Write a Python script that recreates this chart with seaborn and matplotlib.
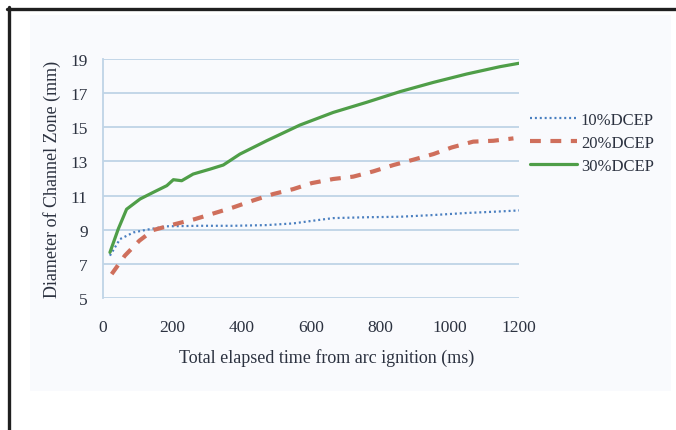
import matplotlib
matplotlib.use("Agg")
import matplotlib.pyplot as plt
from matplotlib.lines import Line2D
from matplotlib.patches import Rectangle
import seaborn as sns

# Channel zone diameter (mm) versus elapsed time (ms) for three DCEP ratios
t_10 = [20, 49, 88, 126, 184, 280, 376, 472, 549, 607, 664, 760, 857, 953, 1049, 1145, 1200]
d_10 = [7.48, 8.45, 8.84, 9.00, 9.20, 9.23, 9.23, 9.27, 9.37, 9.53, 9.68, 9.73, 9.76, 9.86, 9.98, 10.07, 10.13]

t_20 = [25, 63, 105, 145, 208, 265, 323, 376, 434, 491, 549, 602, 664, 722, 780, 838, 895, 953, 1006, 1068, 1126, 1184]
d_20 = [6.40, 7.48, 8.36, 8.98, 9.33, 9.62, 9.98, 10.31, 10.72, 11.09, 11.38, 11.73, 11.97, 12.11, 12.42, 12.79, 13.10, 13.43, 13.82, 14.16, 14.21, 14.35]

t_30 = [20, 44, 68, 107, 145, 184, 203, 227, 260, 309, 347, 395, 472, 568, 664, 760, 857, 953, 1049, 1145, 1200]
d_30 = [7.67, 9.04, 10.20, 10.80, 11.19, 11.58, 11.93, 11.87, 12.26, 12.55, 12.79, 13.43, 14.21, 15.13, 15.87, 16.46, 17.09, 17.63, 18.12, 18.55, 18.75]

series_labels = ["10%DCEP", "20%DCEP", "30%DCEP"]
x_ticks = [0, 200, 400, 600, 800, 1000, 1200]
y_ticks = [5, 7, 9, 11, 13, 15, 17, 19]

sns.set_theme(style="white")
plt.rcParams["font.family"] = ["Liberation Serif", "DejaVu Serif"]

W, H = 676, 431
fig = plt.figure(figsize=(W / 100, H / 100), dpi=100)
fig.patch.set_facecolor("white")

# light panel behind the chart and the dark frame edges
fig.patches.append(Rectangle((30 / W, 1 - 392 / H), (671 - 30) / W, (392 - 16) / H,
                             transform=fig.transFigure, facecolor="#f9fafd",
                             edgecolor="none", zorder=-5))
fig.lines.append(Line2D([8.5 / W, 8.5 / W], [0, 1 - 8 / H], transform=fig.transFigure,
                        color="#1f1f1f", linewidth=2.4, zorder=-4))
fig.lines.append(Line2D([7 / W, 1], [1 - 9.5 / H, 1 - 9.5 / H], transform=fig.transFigure,
                        color="#1f1f1f", linewidth=2.4, zorder=-4))

ax = fig.add_axes([103 / W, 1 - 299 / H, (519 - 103) / W, (299 - 60) / H])
ax.set_facecolor("none")

grid_c = "#bfd4e6"
text_c = "#2c3240"

sns.lineplot(x=t_10, y=d_10, ax=ax, color="#4a7fc0", linewidth=1.6,
             label=series_labels[0], dashes=False)
sns.lineplot(x=t_20, y=d_20, ax=ax, color="#cf6f5c", linewidth=3.0,
             label=series_labels[1], dashes=False)
sns.lineplot(x=t_30, y=d_30, ax=ax, color="#4f9e48", linewidth=2.3,
             label=series_labels[2], dashes=False)

lines = ax.get_lines()
lines[0].set_dashes((0.9, 1.3))
lines[1].set_dashes((2.6, 2.3))

ax.set_xlim(0, 1200)
ax.set_ylim(5, 19)
ax.set_xticks(x_ticks)
ax.set_yticks(y_ticks)
ax.yaxis.grid(True, color=grid_c, linewidth=1.3)
ax.set_axisbelow(True)
for s in ["top", "right", "bottom"]:
    ax.spines[s].set_visible(False)
ax.spines["left"].set_color(grid_c)
ax.spines["left"].set_linewidth(1.3)
ax.tick_params(axis="both", colors=grid_c, labelcolor=text_c, labelsize=12.5,
               length=4, width=1.0, direction="out")
ax.tick_params(axis="x", pad=11)
ax.tick_params(axis="y", pad=7)

ax.set_xlabel("Total elapsed time from arc ignition (ms)", fontsize=13, color=text_c)
ax.xaxis.set_label_coords((327 - 103) / (519 - 103), -0.245)
ax.xaxis.label.set_verticalalignment("center")
ax.set_ylabel("Diameter of Channel Zone (mm)", fontsize=13, color=text_c, labelpad=7)

leg = ax.legend(loc="upper left", bbox_to_anchor=(530 / W, 1 - 113 / H),
                bbox_transform=fig.transFigure, frameon=False, fontsize=12,
                handlelength=2.8, handletextpad=0.25, labelspacing=0.42,
                borderaxespad=0, borderpad=0)
for txt in leg.get_texts():
    txt.set_color(text_c)

fig.savefig("out.png", dpi=100)
